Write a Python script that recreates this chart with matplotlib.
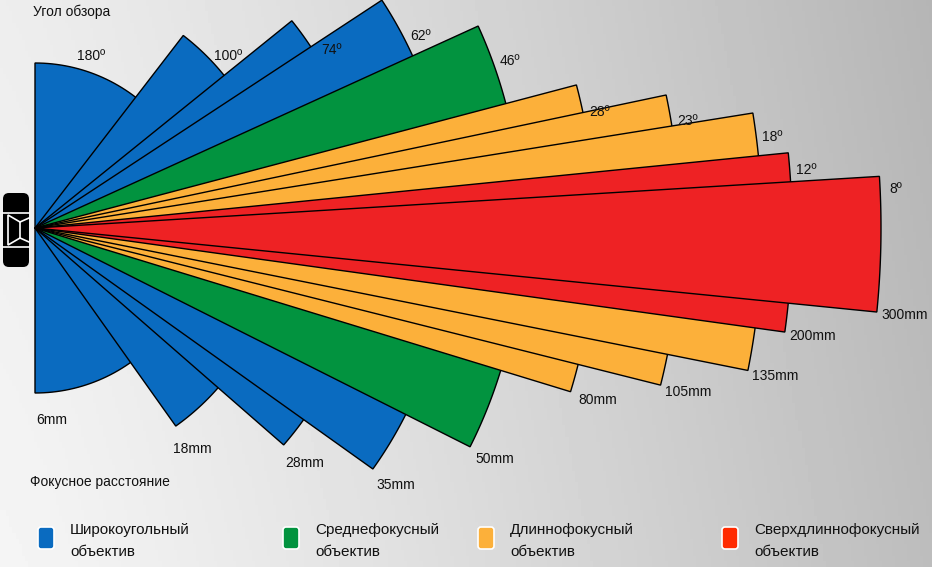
import numpy as np
import matplotlib
matplotlib.use("Agg")
import matplotlib.pyplot as plt
from matplotlib.patches import FancyBboxPatch, Polygon

plt.rcParams['font.family'] = ['Liberation Sans Narrow', 'Liberation Sans', 'DejaVu Sans']

# Data: angle of view labels, focal lengths, drawn half-angles (deg), radii (px), lens class
view_angles = ["180º", "100º", "74º", "62º", "46º", "28º", "23º", "18º", "12º", "8º"]
focal_labels = ["6mm", "18mm", "28mm", "35mm", "50mm", "80mm", "105mm", "135mm", "200mm", "300mm"]
drawn_half = [90, 53.5, 40, 34.4, 25.6, 15.9, 13.0, 10.2, 6.8, 4.6]
radii = [165, 243, 330, 415, 487, 560, 645, 727, 757, 846]
lens_class = [0, 0, 0, 0, 1, 2, 2, 2, 3, 3]
class_names = ["Широкоугольный\nобъектив", "Среднефокусный\nобъектив",
               "Длиннофокусный\nобъектив", "Сверхдлиннофокусный\nобъектив"]
class_colors = ["#0a6bc0", "#02933f", "#fcb03a", "#ee2224"]
legend_colors = ["#0a6bc0", "#02933f", "#fcb03a", "#ff2a00"]

W, H = 932, 567
fig = plt.figure(figsize=(W / 100, H / 100), dpi=100)
ax = fig.add_axes([0, 0, 1, 1])
ax.set_xlim(0, W)
ax.set_ylim(H, 0)
ax.axis('off')

# background gradient
gx = np.linspace(0, 1, 300)
gy = np.linspace(0, 1, 100)
X, Y = np.meshgrid(gx, gy)
val = 0.93 - 0.22 * X ** 1.2 + 0.03 * Y
ax.imshow(val, cmap='gray', vmin=0, vmax=1, extent=[0, W, H, 0], aspect='auto', zorder=0)

cx, cy = 35, 228
rot = -1.1

def pt(r, a):
    t = np.deg2rad(a)
    return cx + r * np.cos(t), cy - r * np.sin(t)

for i, (h, r) in enumerate(zip(drawn_half, radii)):
    c = rot if h < 90 else 0
    a0, a1 = c + h, c - h
    ts = np.linspace(a0, a1, 120)
    xs = [cx] + [pt(r, t)[0] for t in ts]
    ys = [cy] + [pt(r, t)[1] for t in ts]
    ax.add_patch(Polygon(np.column_stack([xs, ys]), closed=True,
                         facecolor=class_colors[lens_class[i]], edgecolor='black',
                         lw=1.0, zorder=2 + i))
    # labels
    la = a0 - 0.2 * h if h < 90 else 72
    lx, ly = pt(r + 16, la)
    ax.text(lx, ly, view_angles[i], fontsize=10, ha='center', va='center', color='#111', zorder=20)
    ba = a1 if h < 90 else -85
    bx, by = pt(r + 28, ba)
    ax.text(bx, by, focal_labels[i], fontsize=10, ha='center', va='center', color='#111', zorder=20)

# camera icon
ax.add_patch(FancyBboxPatch((3, 193), 26, 74, boxstyle="round,pad=0,rounding_size=6",
                            facecolor='black', edgecolor='none', zorder=30))
ax.plot([3, 29], [213, 213], color='white', lw=1.2, zorder=31)
ax.plot([3, 29], [247, 247], color='white', lw=1.2, zorder=31)
ax.add_patch(Polygon([[8, 215], [20, 222], [20, 238], [8, 245]], closed=True,
                     facecolor='none', edgecolor='white', lw=1.2, zorder=31))
ax.plot([20, 29], [222, 218], color='white', lw=1.2, zorder=31)
ax.plot([20, 29], [238, 242], color='white', lw=1.2, zorder=31)

ax.text(33, 12, "Угол обзора", fontsize=10, ha='left', va='center', color='#111')
ax.text(30, 482, "Фокусное расстояние", fontsize=10, ha='left', va='center', color='#111')

# legend
lx0 = [38, 283, 478, 722]
for i in range(4):
    ax.add_patch(FancyBboxPatch((lx0[i], 527), 16, 22, boxstyle="round,pad=0,rounding_size=3",
                                facecolor=legend_colors[i], edgecolor='white', lw=1.2, zorder=5))
    ax.text(lx0[i] + 32, 541, class_names[i], fontsize=11, ha='left', va='center',
            color='#111', linespacing=1.7)

fig.savefig("out.png", dpi=100)
